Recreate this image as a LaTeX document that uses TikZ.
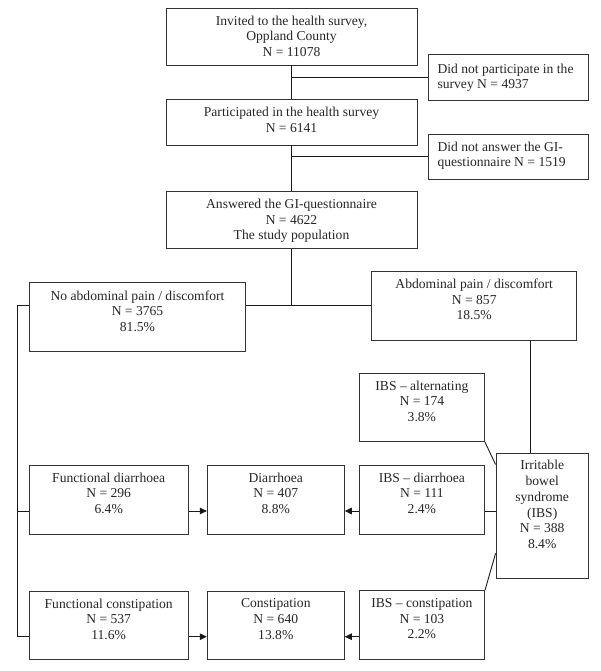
\documentclass[tikz,border=0pt]{standalone}
\usepackage{fontspec}
\setmainfont{Liberation Serif}
\usetikzlibrary{arrows.meta}
\begin{document}
\begin{tikzpicture}[x=1pt,y=-1pt,
  box/.style={draw=black!80, line width=0.9pt, rectangle, inner sep=0pt},
  txt/.style={anchor=north, inner sep=0pt, align=center, text=black!85,
    font={\fontsize{13.6}{15.7}\selectfont}},
  ltxt/.style={anchor=north west, inner sep=0pt, align=left, text=black!85,
    font={\fontsize{13.6}{15.2}\selectfont}},
  conn/.style={draw=black!90, line width=0.9pt},
  arr/.style={conn, -{Triangle[length=7pt,width=6.5pt]}}]
\useasboundingbox (0,0) rectangle (600,671);

% boxes
\node[box, minimum width=251, minimum height=56.7] (inv) at (291.5,36.7) {};
\node[box, minimum width=251, minimum height=45.7] (part) at (291.5,122.2) {};
\node[box, minimum width=251, minimum height=56.6] (ans) at (291.5,220) {};
\node[box, minimum width=160, minimum height=45.7] (notpart) at (508.3,77.2) {};
\node[box, minimum width=160, minimum height=45] (notans) at (508.3,156.8) {};
\node[box, minimum width=216.4, minimum height=68.3] (noabd) at (137.5,316.9) {};
\node[box, minimum width=205, minimum height=68.3] (abd) at (474.2,305.9) {};
\node[box, minimum width=125.3, minimum height=68.4] (alt) at (421.9,407.5) {};
\node[box, minimum width=92.3, minimum height=125] (ibs) at (542.2,515.8) {};
\node[box, minimum width=125.3, minimum height=69] (ibsd) at (421.9,499.5) {};
\node[box, minimum width=125.3, minimum height=68.6] (ibsc) at (421.9,625) {};
\node[box, minimum width=159.3, minimum height=69] (fd) at (108.7,499.5) {};
\node[box, minimum width=137, minimum height=69] (dia) at (275.8,499.5) {};
\node[box, minimum width=159.3, minimum height=68.3] (fc) at (108.7,625.2) {};
\node[box, minimum width=137, minimum height=68.3] (con) at (275.8,625.2) {};

% texts
\node[txt] (tinv) at ([yshift=-7.7]inv.north) {Invited to the health survey,\\Oppland County\\N = 11078};
\node[txt] (tpart) at ([yshift=-8.2]part.north) {Participated in the health survey\\N = 6141};
\node[txt] (tans) at ([yshift=-7.7]ans.north) {Answered the GI-questionnaire\\N = 4622\\The study population};
\node[ltxt] (tnotpart) at ([xshift=9.5,yshift=-9.5]notpart.north west) {Did not participate in the\\survey N = 4937};
\node[ltxt] (tnotans) at ([xshift=9.5,yshift=-8.2]notans.north west) {Did not answer the GI-\\questionnaire N = 1519};
\node[txt] (tnoabd) at ([yshift=-8]noabd.north) {No abdominal pain / discomfort\\N = 3765\\81.5\%};
\node[txt] (tabd) at ([yshift=-7.5]abd.north) {Abdominal pain / discomfort\\N = 857\\18.5\%};
\node[txt] (talt) at ([yshift=-7.7]alt.north) {IBS -- alternating\\N = 174\\3.8\%};
\node[txt] (tibs) at ([yshift=-7.5]ibs.north) {Irritable\\bowel\\syndrome\\(IBS)\\N = 388\\8.4\%};
\node[txt] (tibsd) at ([yshift=-8]ibsd.north) {IBS -- diarrhoea\\N = 111\\2.4\%};
\node[txt] (tibsc) at ([yshift=-8]ibsc.north) {IBS -- constipation\\N = 103\\2.2\%};
\node[txt] (tfd) at ([yshift=-8]fd.north) {Functional diarrhoea\\N = 296\\6.4\%};
\node[txt] (tdia) at ([yshift=-8]dia.north) {Diarrhoea\\N = 407\\8.8\%};
\node[txt] (tfc) at ([yshift=-8]fc.north) {Functional constipation\\N = 537\\11.6\%};
\node[txt] (tcon) at ([yshift=-8]con.north) {Constipation\\N = 640\\13.8\%};

% helper coordinates
\coordinate (yD) at (0,511);
\coordinate (yC) at (0,636.7);
\coordinate (xL) at (17.3,0);
\coordinate (xA) at (530.7,0);
\coordinate (yCd) at (0,553.3);

% top spine
\draw[conn] (inv.south) -- (part.north);
\draw[conn] (part.south) -- (ans.north);
\draw[conn] (notpart.west) -- (notpart.west -| inv.south);
\draw[conn] (notans.west) -- (notans.west -| part.south);
\draw[conn] (ans.south) -- (ans.south |- abd.west);
\draw[conn] (abd.west) -- (abd.west -| noabd.east);

% left branch
\draw[conn] (noabd.west |- abd.west) -- (xL |- abd.west) -- (xL |- yC) -- (fc.west |- yC);
\draw[conn] (xL |- yD) -- (fd.west |- yD);
\draw[arr] (fd.east |- yD) -- (dia.west |- yD);
\draw[arr] (fc.east |- yC) -- (con.west |- yC);

% right branch
\draw[conn] (abd.south -| xA) -- (ibs.north -| xA);
\draw[conn] (alt.south east) -- (ibs.west |- ibsd.north);
\draw[conn] (ibs.west |- yD) -- (ibsd.east |- yD);
\draw[conn] (ibs.west |- yCd) -- (ibsc.north east);
\draw[arr] (ibsd.west |- yD) -- (dia.east |- yD);
\draw[arr] (ibsc.west |- yC) -- (con.east |- yC);
\end{tikzpicture}
\end{document}
